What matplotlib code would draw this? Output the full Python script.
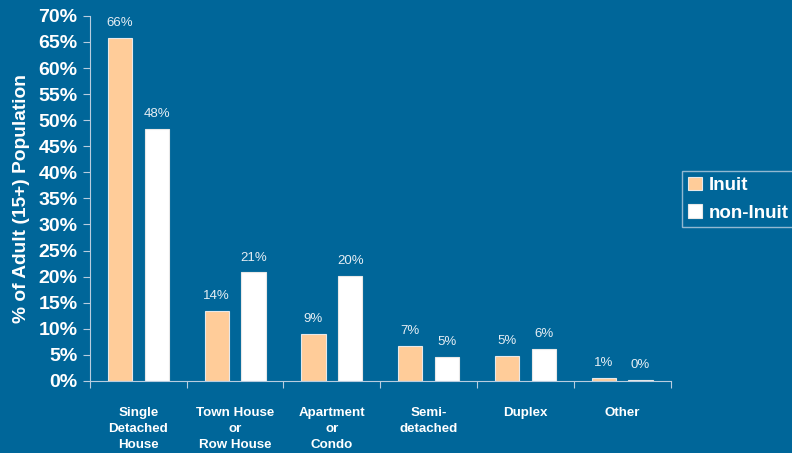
import matplotlib
matplotlib.use("Agg")
import matplotlib.pyplot as plt
import numpy as np

categories = ["Single\nDetached\nHouse", "Town House\nor\nRow House", "Apartment\nor\nCondo",
              "Semi-\ndetached", "Duplex", "Other"]
inuit = [65.8, 13.5, 9.0, 6.7, 4.8, 0.6]
non_inuit = [48.4, 20.8, 20.1, 4.6, 6.2, 0.2]
inuit_labels = ["66%", "14%", "9%", "7%", "5%", "1%"]
non_inuit_labels = ["48%", "21%", "20%", "5%", "6%", "0%"]
yticks = list(range(0, 71, 5))

bg = "#006699"
peach = "#FFCC99"
line_c = "#B8CDE0"

plt.rcParams['font.family'] = ['Liberation Sans', 'DejaVu Sans']
fig = plt.figure(figsize=(7.92, 4.53), dpi=100, facecolor=bg)
ax = fig.add_axes([0.1136, 0.159, 0.733, 0.806], facecolor=bg)

x = np.arange(len(categories))
w = 0.25
off = 0.19
b1 = ax.bar(x - off, inuit, w, color=peach, edgecolor="#E8E8E8", linewidth=0.8, label="Inuit")
b2 = ax.bar(x + off, non_inuit, w, color="white", edgecolor="#E8E8E8", linewidth=0.8, label="non-Inuit")

for xi, v, t in zip(x - off, inuit, inuit_labels):
    ax.text(xi, v + 1.7, t, ha="center", va="bottom", color="#E6EEF4", fontsize=9.5)
for xi, v, t in zip(x + off, non_inuit, non_inuit_labels):
    ax.text(xi, v + 1.7, t, ha="center", va="bottom", color="#E6EEF4", fontsize=9.5)

ax.set_xlim(-0.5, len(categories) - 0.5)
ax.set_ylim(0, 70)
ax.set_yticks(yticks)
ax.set_yticklabels([f"{t}%" for t in yticks], fontsize=14, fontweight="bold", color="white")
ax.set_xticks(np.arange(-0.5, len(categories), 1.0))
ax.set_xticklabels([])
ax.set_xticks(x, minor=True)
ax.set_xticklabels(categories, minor=True, fontsize=9.6, fontweight="bold", color="white",
                   linespacing=1.4)
ax.tick_params(axis="x", which="minor", length=0, pad=19)
ax.tick_params(axis="x", which="major", length=5, color=line_c, direction="out")
ax.tick_params(axis="y", length=5, color=line_c, direction="out", pad=4)

for s in ["top", "right"]:
    ax.spines[s].set_visible(False)
ax.spines["left"].set_color(line_c)
ax.spines["bottom"].set_color(line_c)

ax.set_ylabel("% of Adult (15+) Population", fontsize=13.8, fontweight="bold", color="white", labelpad=6)

leg = fig.legend(handles=[b1, b2], loc="upper left", bbox_to_anchor=(682/792, 1 - 171/453),
                 frameon=True, fancybox=False, fontsize=13.5, handlelength=0.75, handleheight=0.75,
                 handletextpad=0.35, borderpad=0.3, labelspacing=0.55, borderaxespad=0)
leg.get_frame().set_facecolor(bg)
leg.get_frame().set_edgecolor(line_c)
for t in leg.get_texts():
    t.set_color("white")
    t.set_fontweight("bold")

fig.savefig("out.png", dpi=100, facecolor=bg)
